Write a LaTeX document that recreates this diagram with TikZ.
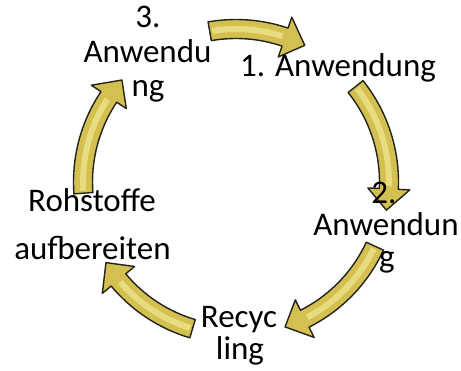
\documentclass[tikz,border=0pt]{standalone}
\usepackage{fontspec}
\setmainfont{Carlito}
\definecolor{gold}{RGB}{212,192,80}
\definecolor{goldlight}{RGB}{240,230,145}
\definecolor{outlinec}{RGB}{35,35,25}
\tikzset{
  lbl/.style={anchor=base, inner sep=0pt, font=\fontsize{33}{40}\selectfont},
}
% circular arrow: #1 tail angle, #2 tip angle (clockwise travel)
\newcommand{\CycArrow}[2]{%
  \pgfmathsetmacro{\hb}{#2+8}%
  \pgfmathsetmacro{\ta}{#1-1}%
  \pgfmathsetmacro{\he}{\hb+1}%
  \fill[gold] (#1:162.5) arc[start angle=#1, end angle=\hb, radius=162.5]
     -- (\hb:174) -- (#2:153) -- (\hb:132) -- (\hb:143.5)
     arc[start angle=\hb, end angle=#1, radius=143.5] -- cycle;
  \draw[goldlight, line width=6pt, opacity=0.75]
     (\ta:153) arc[start angle=\ta, end angle=\he, radius=153];
  \draw[outlinec, line width=1.4pt, line join=round] (#1:162.5) arc[start angle=#1, end angle=\hb, radius=162.5]
     -- (\hb:174) -- (#2:153) -- (\hb:132) -- (\hb:143.5)
     arc[start angle=\hb, end angle=#1, radius=143.5] -- cycle;
}
\begin{document}
\begin{tikzpicture}[x=1pt, y=-1pt]
\useasboundingbox (0,0) rectangle (461,371);
\fill[white] (0,0) rectangle (461,371);
\begin{scope}[shift={(236,182)}, yscale=-1]
  \CycArrow{99.9}{63.3}
  \CycArrow{38.6}{-10.6}
  \CycArrow{-24.8}{-71.3}
  \CycArrow{253.5}{211.8}
  \CycArrow{184.2}{138.2}
\end{scope}
% texts
\node[lbl] (n1) at (338,77) {1. Anwendung};
\node[lbl] (n2a) at (384,204) {2.};
\node[lbl] (n2b) at (386,236) {Anwendun};
\node[lbl] (n2c) at (387,268) {g};
\node[lbl] (nra) at (239,328) {Recyc};
\node[lbl] (nrb) at (240,360) {ling};
\node[lbl] (noa) at (92,212) {Rohstoffe};
\node[lbl] (nob) at (92.5,260) {aufbereiten};
\node[lbl] (n3a) at (148,28) {3.};
\node[lbl] (n3b) at (147.5,63) {Anwendu};
\node[lbl] (n3c) at (148,97) {ng};
\end{tikzpicture}
\end{document}
